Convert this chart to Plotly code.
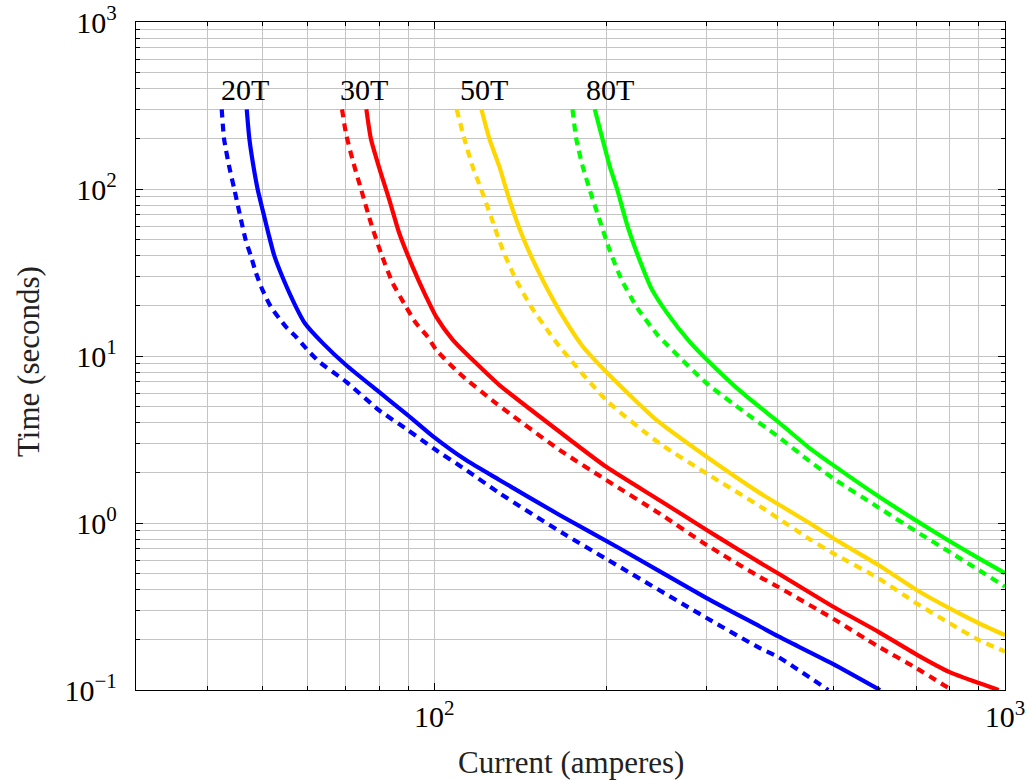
import math
import plotly.graph_objects as go

# ---- data (Current in A, Time in s) ----
t20_solid_x = [46.9, 47.4, 48.2, 49.0, 50.0, 51.2, 52.4, 54.2, 57.2, 59.3, 63.8, 70.0, 79.9, 89.8, 99.6, 113.6, 130, 165.7, 211, 300, 372, 400, 500, 604]
t20_solid_y = [300, 200, 136, 100, 75, 54, 40, 29.6, 19.7, 15.7, 11.9, 8.83, 6.11, 4.43, 3.29, 2.38, 1.81, 1.117, 0.706, 0.355, 0.240, 0.210, 0.143, 0.1]
t20_dash_x = [42.4, 42.8, 43.7, 44.6, 46.7, 47.7, 48.7, 50.0, 51.7, 54.9, 57.2, 59.6, 62.8, 70.0, 79.9, 89.8, 99.6, 113.6, 130, 170, 200, 300, 372, 400, 490]
t20_dash_y = [300, 200, 136, 100, 49.5, 39.7, 31.3, 24.8, 19.7, 15.0, 13.05, 11.1, 9.24, 7.02, 4.75, 3.61, 2.80, 2.08, 1.51, 0.847, 0.61, 0.27, 0.178, 0.158, 0.1]

t30_solid_x = [76.0, 77.4, 80.6, 83.4, 86.8, 91.6, 96.7, 100.7, 107.7, 118.4, 130, 165.7, 200, 248, 300, 338, 372, 400, 500, 600, 700, 800, 900, 975]
t30_solid_y = [300, 200, 124, 85.9, 54.3, 34.2, 22.7, 17.2, 12.5, 9.04, 6.70, 3.52, 2.17, 1.37, 0.908, 0.706, 0.579, 0.500, 0.315, 0.223, 0.163, 0.128, 0.110, 0.1]
t30_dash_x = [68.9, 70.0, 71.9, 74.4, 77.4, 80.6, 84.5, 89.2, 92.9, 97.3, 100.7, 110.6, 128.3, 165.7, 200, 248, 300, 372, 400, 500, 600, 700, 806]
t30_dash_y = [300, 215, 149, 99.6, 62.6, 41.4, 27.4, 19.7, 15.7, 13.05, 10.9, 7.88, 5.21, 2.74, 1.81, 1.14, 0.739, 0.475, 0.415, 0.267, 0.182, 0.135, 0.1]

t50_solid_x = [120.9, 124.9, 130, 135.4, 142, 148.8, 157, 168, 182, 200, 245, 300, 372, 400, 455, 500, 600, 700, 800, 900, 1000]
t50_solid_y = [300, 199, 136, 85.9, 54.3, 37.6, 26.0, 17.2, 11.4, 8.05, 4.14, 2.49, 1.51, 1.30, 0.996, 0.81, 0.56, 0.397, 0.308, 0.251, 0.213]
t50_dash_x = [109.4, 112.9, 116.7, 120.8, 125.7, 131.8, 139.1, 147.8, 159.2, 165.7, 200, 248, 300, 372, 400, 455, 500, 600, 700, 800, 900, 1000]
t50_dash_y = [300, 199, 136, 99.6, 68.1, 43.1, 28.5, 19.7, 13.7, 11.4, 5.45, 3.0, 1.98, 1.26, 1.07, 0.80, 0.658, 0.467, 0.33, 0.251, 0.199, 0.17]

t80_solid_x = [191, 197, 203, 209, 218, 230, 240, 256, 280, 300, 347, 400, 452, 500, 600, 700, 800, 900, 1000]
t80_solid_y = [300, 200, 136, 100, 60, 36, 25.4, 18.0, 12.2, 9.54, 5.99, 4.05, 2.85, 2.22, 1.444, 1.03, 0.777, 0.614, 0.50]
t80_dash_x = [174.6, 177.3, 182, 187.5, 194.8, 202.8, 213, 227, 246, 255, 300, 347, 400, 449, 500, 600, 700, 800, 900, 1000]
t80_dash_y = [300, 199, 136, 97, 65.2, 43.1, 28.5, 19.3, 13.4, 11.8, 6.86, 4.70, 3.30, 2.42, 1.85, 1.24, 0.887, 0.67, 0.522, 0.416]

labels = ["20T", "30T", "50T", "80T"]
label_x = [46.5, 75.4, 122.4, 202.8]
label_y = [394, 394, 394, 394]

colors = ["#0000ff", "#ff0000", "#ffd700", "#00ff00"]

x_major = [100, 1000]
x_major_text = ["10<sup>2</sup>", "10<sup>3</sup>"]
y_major = [0.1, 1, 10, 100, 1000]
y_major_text = ["10<sup>−1</sup>", "10<sup>0</sup>", "10<sup>1</sup>", "10<sup>2</sup>", "10<sup>3</sup>"]

x_minor = [m * 10 ** k for k in (1, 2) for m in range(2, 10)]
y_minor = [m * 10 ** k for k in (-1, 0, 1, 2) for m in range(2, 10)]

series = [
    (t20_solid_x, t20_solid_y, t20_dash_x, t20_dash_y),
    (t30_solid_x, t30_solid_y, t30_dash_x, t30_dash_y),
    (t50_solid_x, t50_solid_y, t50_dash_x, t50_dash_y),
    (t80_solid_x, t80_solid_y, t80_dash_x, t80_dash_y),
]

FONT = "Liberation Serif"
fig = go.Figure()
for (sx, sy, dx, dy), c in zip(series, colors):
    fig.add_trace(go.Scatter(x=sx, y=sy, mode="lines", showlegend=False,
                             line=dict(color=c, width=4.2, shape="spline", smoothing=0.6)))
    fig.add_trace(go.Scatter(x=dx, y=dy, mode="lines", showlegend=False,
                             line=dict(color=c, width=4.2, dash="8px,6px", shape="spline", smoothing=0.6)))

for t, lx, ly in zip(labels, label_x, label_y):
    fig.add_annotation(x=math.log10(lx), y=math.log10(ly), xref="x", yref="y", text=t,
                       showarrow=False, xanchor="center", yanchor="middle",
                       font=dict(family=FONT, size=30, color="black"))

fig.add_annotation(x=0.5006, y=-0.108, xref="paper", yref="paper", text="Current (amperes)",
                   showarrow=False, xanchor="center", yanchor="middle",
                   font=dict(family=FONT, size=31, color="#222222"))
fig.add_annotation(x=-0.1243, y=0.4925, xref="paper", yref="paper", text="Time (seconds)",
                   showarrow=False, xanchor="center", yanchor="middle", textangle=-90,
                   font=dict(family=FONT, size=31, color="#222222"))

grid_col = "#c4c4c4"
axis_common = dict(
    showline=True, linecolor="black", linewidth=1.3, mirror="allticks",
    ticks="inside", ticklen=7, tickcolor="black", tickwidth=1,
    showgrid=True, gridcolor=grid_col, gridwidth=1,
    zeroline=False, ticklabeloverflow="allow", automargin=False,
    tickfont=dict(family=FONT, size=30, color="black"),
)

fig.update_xaxes(type="log", range=[math.log10(30), 3], tickmode="array",
                 tickvals=x_major, ticktext=x_major_text, ticklabelstandoff=0,
                 minor=dict(tickmode="array", tickvals=x_minor, ticks="inside", ticklen=4,
                            tickcolor="black", showgrid=True, gridcolor=grid_col, gridwidth=1),
                 **axis_common)
fig.update_yaxes(type="log", range=[-1, 3], tickmode="array",
                 tickvals=y_major, ticktext=y_major_text, ticklabelstandoff=12,
                 minor=dict(tickmode="array", tickvals=y_minor, ticks="inside", ticklen=4,
                            tickcolor="black", showgrid=True, gridcolor=grid_col, gridwidth=1),
                 **axis_common)

fig.update_layout(width=1029, height=780, margin=dict(l=136, r=24, t=22, b=90, autoexpand=False),
                  plot_bgcolor="white", paper_bgcolor="white", showlegend=False)

fig.write_html("out.html", config={"displayModeBar": False},
               post_script="document.body.style.margin='0';")
